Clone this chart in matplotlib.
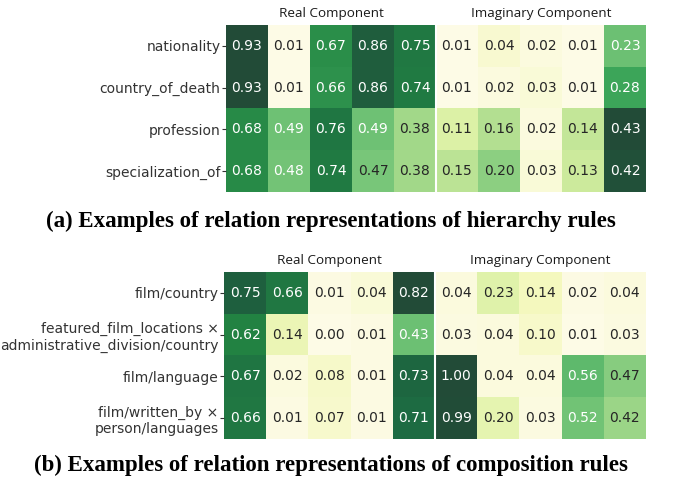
import numpy as np
import matplotlib
matplotlib.use("Agg")
import matplotlib.pyplot as plt
from matplotlib.colors import LinearSegmentedColormap

# hierarchy rules (a)
rows_a = ["nationality", "country_of_death", "profession", "specialization_of"]
real_a = [[0.93, 0.01, 0.67, 0.86, 0.75],
          [0.93, 0.01, 0.66, 0.86, 0.74],
          [0.68, 0.49, 0.76, 0.49, 0.38],
          [0.68, 0.48, 0.74, 0.47, 0.38]]
imag_a = [[0.01, 0.04, 0.02, 0.01, 0.23],
          [0.01, 0.02, 0.03, 0.01, 0.28],
          [0.11, 0.16, 0.02, 0.14, 0.43],
          [0.15, 0.20, 0.03, 0.13, 0.42]]

# composition rules (b)
rows_b = ["film/country",
          "featured_film_locations ×\nadministrative_division/country",
          "film/language",
          "film/written_by ×\nperson/languages"]
real_b = [[0.75, 0.66, 0.01, 0.04, 0.82],
          [0.62, 0.14, 0.00, 0.01, 0.43],
          [0.67, 0.02, 0.08, 0.01, 0.73],
          [0.66, 0.01, 0.07, 0.01, 0.71]]
imag_b = [[0.04, 0.23, 0.14, 0.02, 0.04],
          [0.03, 0.04, 0.10, 0.01, 0.03],
          [1.00, 0.04, 0.04, 0.56, 0.47],
          [0.99, 0.20, 0.03, 0.52, 0.42]]

caption_a = "(a) Examples of relation representations of hierarchy rules"
caption_b = "(b) Examples of relation representations of composition rules"

cmap = LinearSegmentedColormap.from_list(
    "ylgn_soft",
    ["#fdfbe6", "#f5f9c0", "#d9f0a3", "#addd8e", "#78c679",
     "#41ab5d", "#238443", "#1d6a42", "#224b37"])


def half_norm(m):
    m = np.array(m)
    return (m - m.min()) / (m.max() - m.min())


def draw(ax, rows, real, imag, caption, cap_y):
    vals = np.hstack([np.array(real), np.array(imag)])
    normed = np.hstack([half_norm(real), half_norm(imag)])
    ax.imshow(normed, cmap=cmap, vmin=0, vmax=1, aspect='auto',
              interpolation='nearest')
    for i in range(vals.shape[0]):
        for j in range(vals.shape[1]):
            c = 'white' if normed[i, j] > 0.51 else '#262626'
            ax.text(j, i, "%.2f" % vals[i, j], ha='center', va='center',
                    fontsize=10, color=c)
    ax.axvline(4.5, color='white', lw=1.5)
    ax.set_xticks([])
    ax.set_yticks(range(len(rows)))
    ax.set_yticklabels(rows, fontsize=10, color='#333333')
    ax.tick_params(axis='y', length=3, width=0.8, pad=1, colors='#333333')
    for s in ax.spines.values():
        s.set_visible(False)
    ax.text(2, -0.62, "Real Component", ha='center', va='bottom',
            fontsize=9.7, family='Open Sans', color='#1a1a1a')
    ax.text(7, -0.62, "Imaginary Component", ha='center', va='bottom',
            fontsize=9.7, family='Open Sans', color='#1a1a1a')
    fig.text(0.49, cap_y, caption, ha='center', va='center', fontsize=16.5,
             family='Liberation Serif', weight='bold')


fig = plt.figure(figsize=(6.76, 4.84), dpi=100)
ax1 = fig.add_axes([226 / 676, 1 - 192 / 484, 420 / 676, 167 / 484])
ax2 = fig.add_axes([224 / 676, 1 - 439 / 484, 422 / 676, 167 / 484])

draw(ax1, rows_a, real_a, imag_a, caption_a, 1 - 221 / 484)
draw(ax2, rows_b, real_b, imag_b, caption_b, 1 - 465 / 484)

fig.savefig("out.png", dpi=100)
